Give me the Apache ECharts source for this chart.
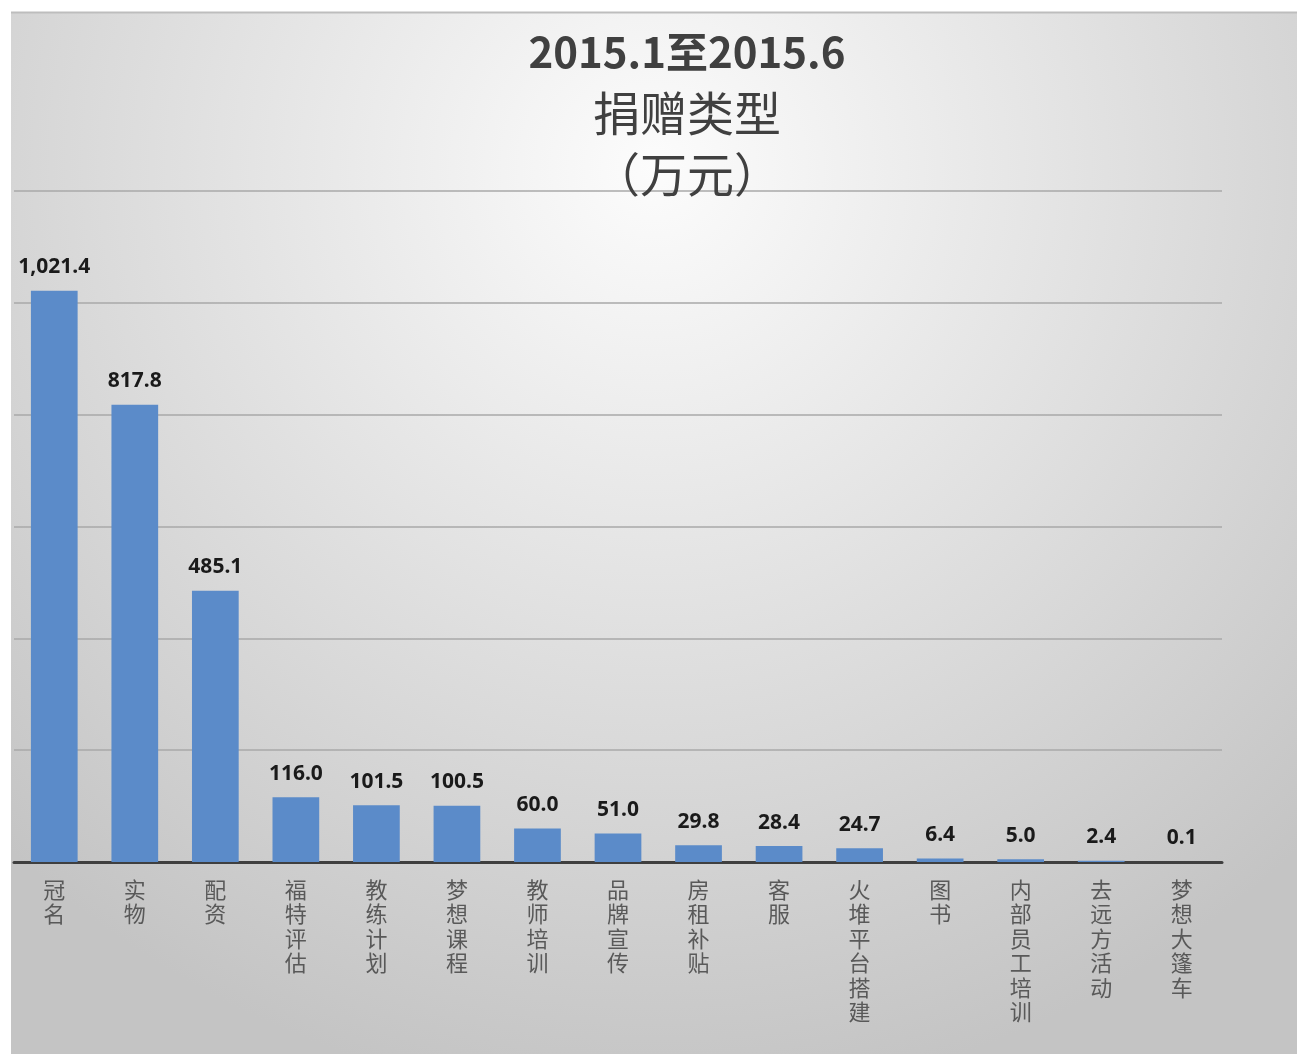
<!DOCTYPE html>
<html>
<head>
<meta charset="utf-8">
<script src="https://cdn.jsdelivr.net/npm/echarts@6/dist/echarts.min.js"></script>
<style>
html,body{margin:0;padding:0;background:#fff;}
#chart{width:1297px;height:1054px;}
</style>
</head>
<body>
<div id="chart"></div>
<script>
var categories = ['冠名','实物','配资','福特评估','教练计划','梦想课程','教师培训','品牌宣传','房租补贴','客服','火堆平台搭建','图书','内部员工培训','去远方活动','梦想大篷车'];
var values = [1021.4, 817.8, 485.1, 116.0, 101.5, 100.5, 60.0, 51.0, 29.8, 28.4, 24.7, 6.4, 5.0, 2.4, 0.1];
var titleLines = ['2015.1至2015.6', '捐赠类型', '（万元）'];

var chart = echarts.init(document.getElementById('chart'), null, {renderer:'canvas'});
chart.setOption({
  backgroundColor: '#ffffff',
  animation: false,
  graphic: [{
    type: 'rect', z: -10, silent: true,
    shape: {x: 11, y: 12, width: 1286, height: 1042},
    style: {
      fill: {type:'radial', x:0.5, y:0.15, r:0.9, colorStops:[{offset:0,color:'#fcfcfc'},{offset:1,color:'#c4c4c4'}]},
      stroke: null
    }
  },{
    type: 'line', z: -9, silent: true,
    shape: {x1: 11, y1: 12.5, x2: 1297, y2: 12.5},
    style: {stroke: '#bdbdbd', lineWidth: 2}
  }],
  title: {
    left: 682, textAlign: 'center', top: 17,
    text: '{a|' + titleLines[0] + '}\n{b|' + titleLines[1] + '}\n{b|' + titleLines[2] + '}',
    textStyle: {
      rich: {
        a: {fontFamily: '"Noto Sans CJK SC"', fontWeight: 'bold', fontSize: 42, color: '#404040', lineHeight: 61},
        b: {fontFamily: '"Noto Sans CJK SC"', fontWeight: 'normal', fontSize: 47, color: '#404040', lineHeight: 61}
      }
    }
  },
  grid: {left: 14, right: 75, top: 191, bottom: 192, containLabel: false},
  xAxis: {
    type: 'category',
    data: categories,
    axisLine: {lineStyle: {color: '#3f3f3f', width: 3}},
    axisTick: {show: false},
    axisLabel: {
      interval: 0,
      margin: 15,
      color: '#595959',
      fontFamily: '"Noto Sans CJK SC"',
      fontSize: 22,
      lineHeight: 24.5,
      formatter: function(v){ return v.split('').join('\n'); }
    }
  },
  yAxis: {
    type: 'value',
    min: 0, max: 1200, interval: 200,
    axisLabel: {show: false},
    axisLine: {show: false},
    axisTick: {show: false},
    splitLine: {lineStyle: {color: '#a8a8a8', width: 1.5}}
  },
  series: [{
    type: 'bar',
    data: values,
    barWidth: '58%',
    itemStyle: {color: '#5b8bc9'},
    label: {
      show: true,
      position: 'top',
      distance: 13,
      color: '#1a1a1a',
      fontFamily: '"Noto Sans"',
      fontWeight: 'bold',
      fontSize: 21,
      formatter: function(p){ return p.value.toLocaleString('en-US',{minimumFractionDigits:1, maximumFractionDigits:1}); }
    }
  }]
});
</script>
</body>
</html>
